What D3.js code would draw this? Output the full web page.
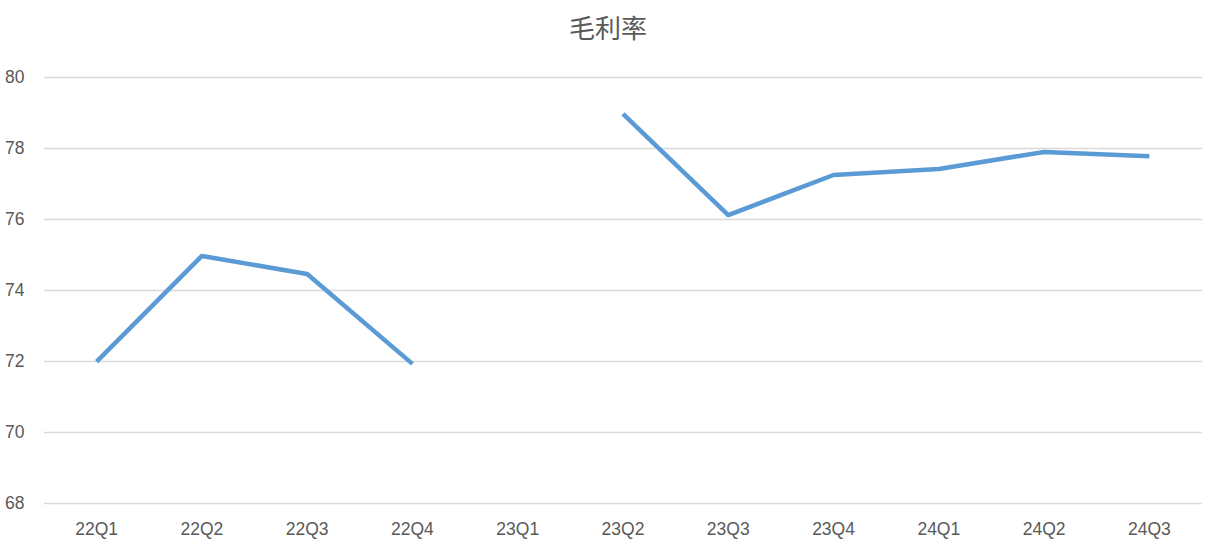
<!DOCTYPE html>
<html>
<head>
<meta charset="utf-8">
<script src="https://cdn.jsdelivr.net/npm/d3@7"></script>
<style>
body { margin: 0; background: #fff; }
text { font-family: "Liberation Sans", "Noto Sans CJK SC", sans-serif; }
</style>
</head>
<body>
<div id="chart"></div>
<script>
// quarters and gross margin (%), 23Q1 has no value
var quarters = ["22Q1", "22Q2", "22Q3", "22Q4", "23Q1", "23Q2", "23Q3", "23Q4", "24Q1", "24Q2", "24Q3"];
var margins = [71.98, 74.96, 74.45, 71.92, null, 78.96, 76.11, 77.24, 77.41, 77.89, 77.77];
var yTicks = [68, 70, 72, 74, 76, 78, 80];
var title = "毛利率";

var width = 1210, height = 544;
var margin = {top: 77, right: 8, bottom: 41, left: 44};

var svg = d3.select("#chart").append("svg")
    .attr("width", width)
    .attr("height", height);

var x = d3.scaleBand()
    .domain(quarters)
    .range([margin.left, width - margin.right]);

var y = d3.scaleLinear()
    .domain([68, 80])
    .range([height - margin.bottom, margin.top]);

// gridlines
svg.append("g")
    .selectAll("line")
    .data(yTicks)
    .enter().append("line")
    .attr("x1", margin.left)
    .attr("x2", width - margin.right)
    .attr("y1", function(d) { return Math.round(y(d)) + 0.5; })
    .attr("y2", function(d) { return Math.round(y(d)) + 0.5; })
    .attr("stroke", "#d9d9d9")
    .attr("stroke-width", 1.3);

// y labels
svg.append("g")
    .selectAll("text")
    .data(yTicks)
    .enter().append("text")
    .attr("x", 5)
    .attr("y", function(d) { return y(d); })
    .attr("dy", "0.35em")
    .attr("font-size", 17.5)
    .attr("fill", "#595959")
    .text(function(d) { return d; });

// x labels
svg.append("g")
    .selectAll("text")
    .data(quarters)
    .enter().append("text")
    .attr("x", function(d) { return x(d) + x.bandwidth() / 2; })
    .attr("y", 535)
    .attr("text-anchor", "middle")
    .attr("font-size", 17.5)
    .attr("fill", "#595959")
    .text(function(d) { return d; });

// line, broken where value is missing
var line = d3.line()
    .defined(function(d) { return d.v != null; })
    .x(function(d) { return x(d.q) + x.bandwidth() / 2; })
    .y(function(d) { return y(d.v); });

var data = quarters.map(function(q, i) { return {q: q, v: margins[i]}; });

svg.append("path")
    .datum(data)
    .attr("d", line)
    .attr("fill", "none")
    .attr("stroke", "#5b9bd5")
    .attr("stroke-width", 4.5)
    .attr("stroke-linejoin", "round");

// title
svg.append("text")
    .attr("x", width / 2 + 3)
    .attr("y", 38)
    .attr("text-anchor", "middle")
    .attr("font-size", 26)
    .attr("font-family", "Noto Sans CJK SC")
    .attr("fill", "#595959")
    .text(title);
</script>
</body>
</html>
